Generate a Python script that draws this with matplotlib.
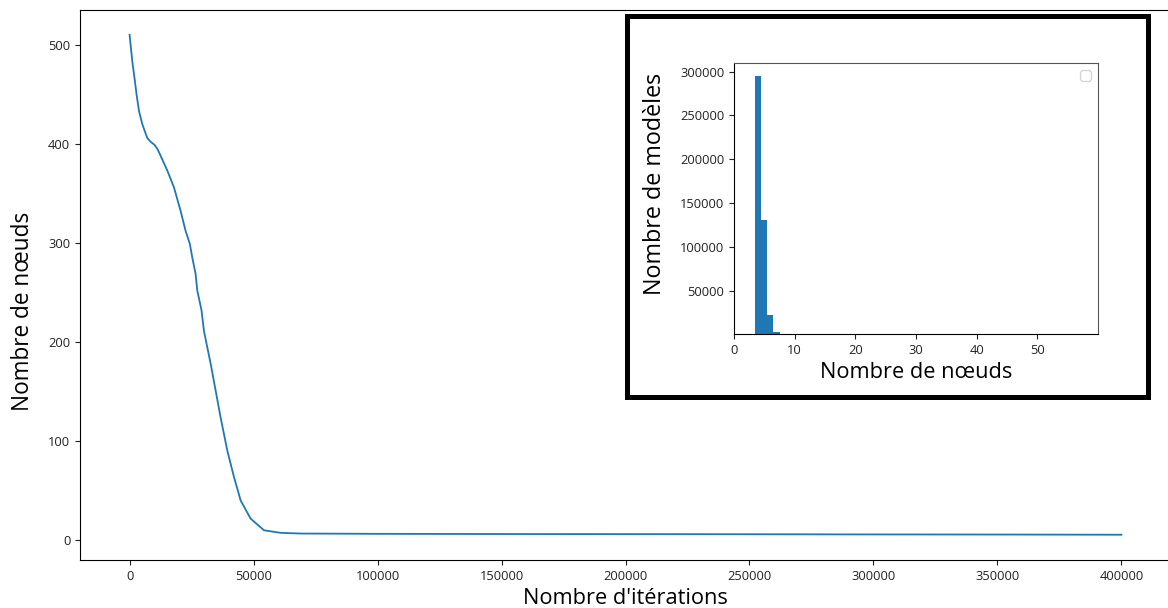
import matplotlib
matplotlib.use("Agg")
import matplotlib.pyplot as plt
from matplotlib.patches import Rectangle

plt.rcParams['font.family'] = ['Open Sans', 'DejaVu Sans']

# Main curve: number of nodes vs iterations
iterations = [0, 400, 1100, 2000, 2800, 3800, 5100, 7100, 8500, 10000, 11200, 12500,
              15200, 17900, 20600, 22600, 24300, 25300, 26600, 27300, 29000,
              30000, 32700, 34700, 36700, 39400, 42100, 44800, 48800, 54200,
              60900, 69000, 80000, 100000, 150000, 200000, 250000, 300000,
              350000, 400000]
nodes = [510, 500, 483, 466, 450, 433, 420, 406, 402, 399, 395, 388,
         373, 356, 332, 312, 299, 285, 269, 252, 232,
         211, 178, 151, 124, 90.5, 63.7, 40, 21.8, 10,
         7.4, 6.7, 6.6, 6.4, 6.2, 6.1, 6.0, 5.8,
         5.7, 5.5]

# Inset histogram
node_bins = [4, 5, 6, 7]
model_counts = [295000, 131000, 22600, 3600]

W, H = 1168, 608
fig = plt.figure(figsize=(W / 100, H / 100), dpi=100)

ax = fig.add_axes([80 / W, (H - 560) / H, 1091 / W, 550 / H])
ax.plot(iterations, nodes, color='#1f77b4', lw=1.3)
ax.set_xlim(-20000, 420000)
ax.set_ylim(-20, 535)
ax.set_xticks(range(0, 400001, 50000))
ax.set_yticks(range(0, 501, 100))
ax.tick_params(labelsize=9.3, colors='#222222')
ax.set_xlabel("Nombre d'itérations", fontsize=15.7)
ax.set_ylabel("Nombre de nœuds", fontsize=16.3)
ax.yaxis.set_label_coords(-0.0415, 0.4527)

# Frame around inset
fig.patches.append(Rectangle((627 / W, (H - 397) / H), (1148 - 627) / W, (397 - 16) / H,
                             transform=fig.transFigure, fill=True, facecolor='white',
                             edgecolor='black', lw=3.6, zorder=5))

axin = fig.add_axes([734 / W, (H - 334) / H, 364 / W, 271 / H], zorder=10)
axin.bar(node_bins, model_counts, width=1.0, color='#1f77b4')
axin.set_xlim(0, 60)
axin.set_ylim(1000, 309750)
axin.set_xticks(range(0, 51, 10))
axin.set_yticks(range(50000, 300001, 50000))
axin.tick_params(labelsize=9.3, colors='#222222')
for s in ['top', 'right']:
    axin.spines[s].set_color('#555555')
axin.set_xlabel("Nombre de nœuds", fontsize=15.7)
axin.set_ylabel("Nombre de modèles", fontsize=16.8)
axin.yaxis.set_label_coords(-0.185, 0.555)
axin.legend(handles=[], loc='upper right')

fig.savefig('out.png', dpi=100)
